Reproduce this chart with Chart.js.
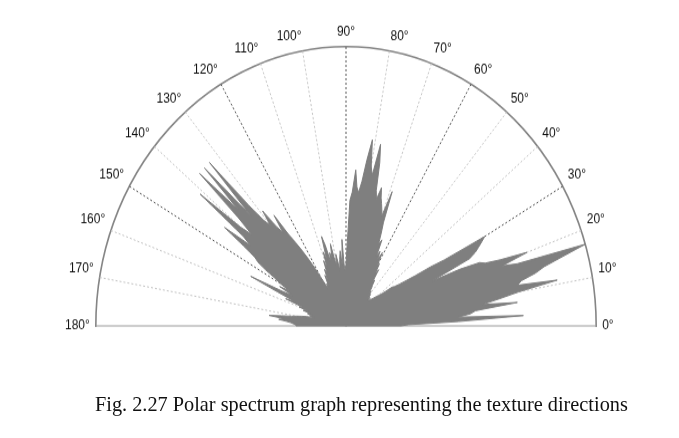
<!DOCTYPE html>
<html>
<head>
<meta charset="utf-8">
<script src="https://cdn.jsdelivr.net/npm/chart.js@4.4.1/dist/chart.umd.min.js"></script>
<style>
  html, body { margin: 0; padding: 0; background: #fff; overflow: hidden; }
  #page { position: relative; width: 679px; height: 438px; }
  /* the source figure is a little taller than wide, so stretch the plot */
  #stretch { position: absolute; left: 0; top: 0; width: 679px; height: 600px; transform: scaleY(1.116); transform-origin: 0 0; }
  #caption { position: absolute; left: 95px; top: 393px; white-space: nowrap;
             font-family: "Liberation Serif", "Times New Roman", serif; font-size: 20.3px; color: #111; }
</style>
</head>
<body>
<div id="page">
  <div id="stretch"><canvas id="polarSpectrumChart"></canvas></div>
  <div id="caption">Fig. 2.27 Polar spectrum graph representing the texture directions</div>
</div>
<script>
// spectrum radius for each direction, 0° .. 180° in 1° steps (1 = outer arc)
const spectrum = [
  0.22, 0.25, 0.45, 0.71, 0.45, 0.50, 0.52, 0.69, 0.55, 0.62,   // 0-9
  0.70, 0.86, 0.70, 0.72, 0.78, 0.82, 0.90, 1.00, 0.72, 0.66,   // 10-19
  0.77, 0.66, 0.60, 0.58, 0.50, 0.38, 0.55, 0.58, 0.60, 0.62,   // 20-29
  0.64, 0.46, 0.40, 0.33, 0.29, 0.26, 0.24, 0.23, 0.20, 0.18,   // 30-39
  0.17, 0.16, 0.15, 0.14, 0.14, 0.13, 0.13, 0.14, 0.13, 0.15,   // 40-49
  0.14, 0.16, 0.15, 0.17, 0.18, 0.20, 0.19, 0.24, 0.22, 0.26,   // 50-59
  0.25, 0.30, 0.27, 0.30, 0.28, 0.34, 0.32, 0.36, 0.40, 0.515,  // 60-69
  0.42, 0.44, 0.46, 0.48, 0.515, 0.47, 0.50, 0.60, 0.665, 0.55, // 70-79
  0.58, 0.675, 0.60, 0.52, 0.48, 0.50, 0.56, 0.48, 0.45, 0.30,  // 80-89
  0.22, 0.20, 0.22, 0.31, 0.22, 0.27, 0.24, 0.20, 0.23, 0.26,   // 90-99
  0.22, 0.25, 0.30, 0.25, 0.27, 0.24, 0.30, 0.335, 0.25, 0.28,  // 100-109
  0.22, 0.25, 0.20, 0.22, 0.18, 0.20, 0.16, 0.17, 0.15, 0.17,   // 110-119
  0.20, 0.24, 0.28, 0.32, 0.36, 0.40, 0.49, 0.42, 0.45, 0.53,   // 120-129
  0.47, 0.50, 0.58, 0.80, 0.55, 0.80, 0.60, 0.80, 0.58, 0.50,   // 130-139
  0.55, 0.75, 0.52, 0.48, 0.60, 0.50, 0.44, 0.42, 0.38, 0.33,   // 140-149
  0.30, 0.26, 0.30, 0.24, 0.28, 0.42, 0.30, 0.22, 0.26, 0.18,   // 150-159
  0.20, 0.16, 0.18, 0.15, 0.16, 0.14, 0.15, 0.13, 0.16, 0.18,   // 160-169
  0.20, 0.22, 0.26, 0.31, 0.25, 0.27, 0.24, 0.22, 0.21, 0.20,   // 170-179
  0.20                                                          // 180
];
const tickAngles = [0, 10, 20, 30, 40, 50, 60, 70, 80, 90, 100, 110, 120, 130, 140, 150, 160, 170, 180];
const majorRays = [30, 60, 90, 120, 150];
const baseRays = [0, 180];

// radar goes clockwise from the start angle, so walk the directions backwards
const directions = [];
const radii = [];
for (let i = 0; i < 360; i++) {
    const dir = (360 - i) % 360;
    directions.push(dir);
    radii.push(dir <= 180 ? spectrum[dir] : 0);
}

// only the upper half of the polar plot is shown
const halfPlane = {
    id: 'halfPlane',
    beforeDraw(chart) {
        const r = chart.scales.r;
        const ctx = chart.ctx;
        const edge = r.drawingArea + 2;
        ctx.save();
        ctx.beginPath();
        ctx.rect(0, 0, chart.width, r.yCenter + 1);
        ctx.rect(0, 0, r.xCenter - edge, chart.height);
        ctx.rect(r.xCenter + edge, 0, chart.width, chart.height);
        ctx.clip();
    },
    afterDraw(chart) {
        chart.ctx.restore();
    }
};

const ctx = document.getElementById('polarSpectrumChart');

new Chart(ctx, {
    type: 'radar',
    data: {
        labels: directions,
        datasets: [
            {
                data: radii,
                backgroundColor: '#7f7f7f',
                borderColor: '#7f7f7f',
                borderWidth: 1,
                pointRadius: 0,
                fill: true,
                tension: 0
            }
        ]
    },
    options: {
        responsive: true,
        maintainAspectRatio: false,
        animation: false,
        layout: { padding: { left: 60, right: 57, top: 0, bottom: 16 } },
        plugins: { legend: { display: false }, tooltip: { enabled: false } },
        scales: {
            r: {
                min: 0,
                max: 1,
                startAngle: 90,
                ticks: { display: false, stepSize: 1 },
                grid: { circular: true, color: '#858585', lineWidth: 1.6 },
                angleLines: {
                    color: c => {
                        const dir = directions[c.index];
                        if (baseRays.includes(dir)) return '#9a9a9a';
                        if (majorRays.includes(dir)) return '#555';
                        return '#c4c4c4';
                    },
                    lineWidth: c => tickAngles.includes(directions[c.index]) ? 1 : 0,
                    borderDash: c => baseRays.includes(directions[c.index]) ? [] : [2, 2]
                },
                pointLabels: {
                    padding: 6,
                    color: '#111',
                    font: { family: '"Liberation Sans", Arial, sans-serif', size: 12 },
                    callback: label => tickAngles.includes(label) ? label + '°' : ''
                }
            }
        }
    },
    plugins: [halfPlane]
});
</script>
</body>
</html>
